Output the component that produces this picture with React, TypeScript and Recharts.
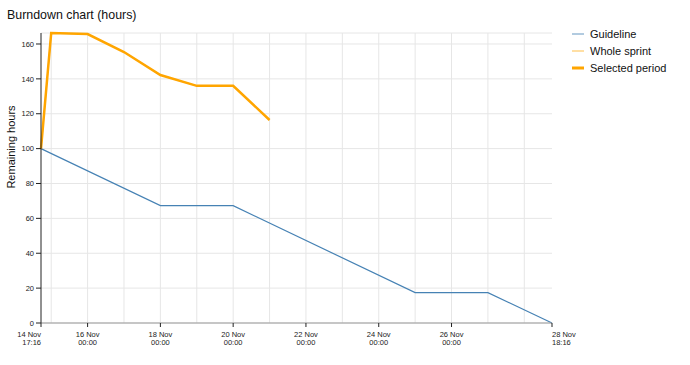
import { LineChart, Line, XAxis, YAxis, CartesianGrid, Label, ReferenceLine } from "recharts";

const day = (d: number, h = 0, m = 0) => Date.UTC(2023, 10, d, h, m);

const sprintStart = day(14, 17, 16);
const sprintEnd = day(28, 18, 16);

// guideline (flat over weekends)
const guideTimes = [sprintStart, day(18), day(20), day(25), day(27), sprintEnd];
const guideHours = [100, 67.3, 67.3, 17.4, 17.4, 0];

// remaining hours snapshots
const actualTimes = [sprintStart, day(15), day(16), day(17), day(18), day(19), day(20), day(21)];
const actualHours = [100, 166.3, 165.7, 155.4, 142.2, 136, 136, 116.4];

const xTicks = [sprintStart, day(16), day(18), day(20), day(22), day(24), day(26), sprintEnd];
const yTicks = [0, 20, 40, 60, 80, 100, 120, 140, 160];
const gridDays = [15, 16, 17, 18, 19, 20, 21, 22, 23, 24, 25, 26, 27, 28];

const MONTHS = ["Jan", "Feb", "Mar", "Apr", "May", "Jun", "Jul", "Aug", "Sep", "Oct", "Nov", "Dec"];

const guideData = guideTimes.map((t, i) => ({ t, hours: guideHours[i] }));
const actualData = actualTimes.map((t, i) => ({ t, hours: actualHours[i] }));
const gridTicks = gridDays.map((d) => day(d));

const BLUE = "#4682b4";
const ORANGE = "#ffa500";
const GRID = "#e6e6e6";
const FONT = "'Liberation Sans', Arial, sans-serif";

const pad = (n: number) => String(n).padStart(2, "0");

function DateTick(props: any) {
  const { x, y, payload } = props;
  const d = new Date(payload.value);
  const anchor = payload.value === sprintStart ? "end" : payload.value === sprintEnd ? "start" : "middle";
  return (
    <text x={x} y={y} textAnchor={anchor} fontSize={7.5} fill="#222" fontFamily={FONT}>
      <tspan x={x} dy={8}>{`${d.getUTCDate()} ${MONTHS[d.getUTCMonth()]}`}</tspan>
      <tspan x={x} dy={7.5}>{`${pad(d.getUTCHours())}:${pad(d.getUTCMinutes())}`}</tspan>
    </text>
  );
}

const legendItems = [
  { name: "Guideline", color: BLUE, width: 1.2, opacity: 0.7 },
  { name: "Whole sprint", color: ORANGE, width: 1.2, opacity: 0.6 },
  { name: "Selected period", color: ORANGE, width: 3, opacity: 1 },
];

export default function App() {
  return (
    <div style={{ position: "absolute", left: 0, top: 0, width: 690, height: 365, fontFamily: FONT, background: "#fff" }}>
      <div style={{ position: "absolute", left: 7, top: 8, fontSize: 12.4, color: "#111" }}>
        Burndown chart (hours)
      </div>
      <div style={{ position: "absolute", left: 572, top: 25 }}>
        {legendItems.map((it) => (
          <div key={it.name} style={{ display: "flex", alignItems: "center", height: 17, fontSize: 11, color: "#111" }}>
            <svg width={12} height={10} style={{ marginRight: 6 }}>
              <line x1={0} x2={12} y1={5} y2={5} stroke={it.color} strokeWidth={it.width} strokeOpacity={it.opacity} />
            </svg>
            {it.name}
          </div>
        ))}
      </div>
      <LineChart width={690} height={365} margin={{ top: 33, right: 138, bottom: 12, left: 0 }}>
        <CartesianGrid stroke={GRID} vertical={false} />
        {/* daily grid lines at midnight */}
        {gridTicks.map((t) => (
          <ReferenceLine key={t} x={t} stroke={GRID} strokeWidth={1} />
        ))}
        <XAxis
          type="number"
          dataKey="t"
          domain={[sprintStart, sprintEnd]}
          ticks={xTicks}
          interval={0}
          height={30}
          tick={<DateTick />}
          tickLine={{ stroke: "#222" }}
          tickSize={4}
          axisLine={{ stroke: "#999" }}
        />
        <YAxis
          type="number"
          domain={[0, "dataMax"]}
          ticks={yTicks}
          width={41}
          tick={{ fontSize: 7.5, fill: "#222", fontFamily: FONT }}
          tickLine={{ stroke: "#222" }}
          tickSize={5}
          axisLine={{ stroke: "#222" }}
        >
          <Label
            content={({ viewBox }: any) => {
              const cx = viewBox.x + 15;
              const cy = 147;
              return (
                <text x={cx} y={cy} transform={`rotate(-90 ${cx} ${cy})`} textAnchor="middle" fontSize={11} fill="#111" fontFamily={FONT}>
                  Remaining hours
                </text>
              );
            }}
          />
        </YAxis>
        <Line data={guideData} dataKey="hours" name="Guideline" stroke={BLUE} strokeWidth={1.2} dot={false} isAnimationActive={false} />
        <Line data={actualData} dataKey="hours" name="Whole sprint" stroke={ORANGE} strokeOpacity={0.6} strokeWidth={1.2} dot={false} isAnimationActive={false} />
        <Line data={actualData} dataKey="hours" name="Selected period" stroke={ORANGE} strokeWidth={2.5} dot={false} isAnimationActive={false} />
      </LineChart>
    </div>
  );
}
